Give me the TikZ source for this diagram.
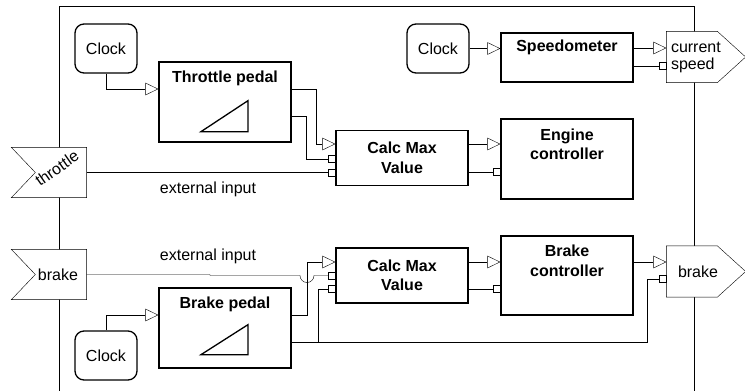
\documentclass[tikz,border=0pt]{standalone}
\usepackage{fontspec}
\setmainfont{Liberation Sans}
\usetikzlibrary{arrows.meta,backgrounds}
\newcommand\dgfont{\fontsize{16}{19.5}\selectfont}
\begin{document}
\begin{tikzpicture}[x=1pt,y=-1pt,line width=1.3pt,font=\dgfont,
  blk/.style={draw,fill=white,inner sep=0pt,minimum width=132pt},
  ttl/.style={anchor=center,font=\dgfont\bfseries,align=center,inner sep=0pt},
  clk/.style={draw,fill=white,rounded corners=9pt,inner sep=0pt,minimum width=62pt,minimum height=49pt},
  tagnode/.style={inner sep=0pt,minimum width=74pt,minimum height=49pt},
  outtag/.style={inner ysep=0pt,minimum height=50pt,align=left},
  tri/.style={-{Triangle[length=13pt,width=12.5pt,fill=white]}},
  sq/.style={-{Square[length=7.5pt,width=7.5pt,fill=white]}}]
\useasboundingbox (0,0) rectangle (745,391);

% blocks
\node[clk] (clk1) at (106,48.5) {Clock};
\node[clk] (clk2) at (438,48.5) {Clock};
\node[clk] (clk3) at (106,355.5) {Clock};
\node[blk,minimum height=80pt,label={[ttl,yshift=-17pt]north:Throttle pedal}] (tp) at (225,102) {};
\node[blk,minimum height=80pt,label={[ttl,yshift=-17pt]north:Brake pedal}] (bp) at (225,328) {};
\node[blk,minimum height=55pt,font=\dgfont\bfseries,align=center] (c1) at (402,158) {Calc Max\\Value};
\node[blk,minimum height=55pt,font=\dgfont\bfseries,align=center] (c2) at (402,275.5) {Calc Max\\Value};
\node[blk,minimum height=80pt,label={[ttl,yshift=-26pt]north:Engine\\controller}] (eng) at (567,159) {};
\node[blk,minimum height=49pt,label={[ttl,yshift=-15.5pt]north:Speedometer}] (spd) at (567,57.5) {};
\node[blk,minimum height=79pt,label={[ttl,yshift=-25.5pt]north:Brake\\controller}] (bc) at (567,275.5) {};

% ramp symbols
\draw ([shift={(-24,-11)}]tp.south) -- ([shift={(23,-11)}]tp.south) -- ([shift={(23,-42)}]tp.south) -- cycle;
\draw ([shift={(-24,-14)}]bp.south) -- ([shift={(23,-14)}]bp.south) -- ([shift={(23,-44)}]bp.south) -- cycle;

% tags
\node[tagnode,label={[rotate=35,xshift=9pt,yshift=-1pt]center:throttle}] (thr) at (49,172.5) {};
\node[tagnode,label={[xshift=9pt]center:brake}] (brk) at (49,274.5) {};
\node[outtag,inner xsep=4pt,text width=70pt,font=\fontsize{16}{17}\selectfont] (cs) at (706,57) {current\\speed};
\node[outtag,inner xsep=11pt,text width=56pt] (bout) at (706,271.5) {brake};

\node (ext1) at (208,189) {external input};
\node (ext2) at (208,256) {external input};

\begin{pgfonlayer}{background}
  \draw (59,391) -- (59,6) -- (694,6) -- (694,391);
  \foreach \n in {thr,brk}
    \draw[fill=white] (\n.north west) -- (\n.north east) -- (\n.south east) -- (\n.south west) -- ([xshift=24pt]\n.west) -- cycle;
  \foreach \n in {cs,bout}
    \draw[fill=white] (\n.north west) -- ([xshift=51pt]\n.north west) -- (\n.east) -- ([xshift=51pt]\n.south west) -- (\n.south west) -- cycle;
\end{pgfonlayer}

% connectors
\draw[tri] (clk1.south) |- (tp.west |- 0,89);
\draw[tri] (tp.east |- 0,89) -| (316,144) -- (c1.west |- 0,144);
\draw[sq] (tp.east |- 0,116) -| (306,159) -- (c1.west |- 0,159);
\draw[sq] (thr.east) -- (c1.west |- thr.east);
\draw[tri] (c1.east |- 0,144) -- (eng.west |- 0,144);
\draw[sq] (c1.east |- 0,172) -- (eng.west |- 0,172);
\draw[tri] (clk2.east) -- (spd.west |- clk2.east);
\draw[tri] (spd.east |- 0,48) -- (cs.west |- 0,48);
\draw[sq] (spd.east |- 0,66) -- (cs.west |- 0,66);

\draw[tri] (clk3.north) |- (bp.west |- 0,315);
\draw[sq] (brk.east) -- (210,274.5) -- (210,275.5) -- (300,275.5) arc[start angle=180,end angle=360,radius=7pt] -- (c2.west |- 0,275.5);
\draw[tri] (bp.east |- 0,315) -| (307,262) -- (c2.west |- 0,262);
\coordinate (br) at (318,342);
\draw[sq] (bp.east |- 0,342) -| (647,279) -- (bout.west |- 0,279);
\draw[sq] (br) |- (c2.west |- 0,289);
\draw[tri] (c2.east |- 0,262) -- (bc.west |- 0,262);
\draw[sq] (c2.east |- 0,289) -- (bc.west |- 0,289);
\draw[tri] (bc.east |- 0,262) -- (bout.west |- 0,262);
\end{tikzpicture}
\end{document}
